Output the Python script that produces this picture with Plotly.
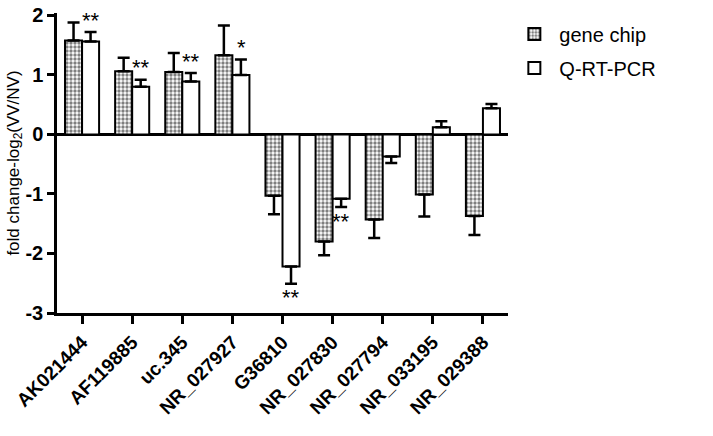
import plotly.graph_objects as go

categories = ["AK021444", "AF119885", "uc.345", "NR_027927", "G36810",
              "NR_027830", "NR_027794", "NR_033195", "NR_029388"]
gene_chip = [1.58, 1.06, 1.05, 1.33, -1.03, -1.80, -1.43, -1.01, -1.37]
gene_chip_err = [0.30, 0.23, 0.32, 0.50, 0.31, 0.23, 0.31, 0.37, 0.32]
qrt_pcr = [1.56, 0.80, 0.89, 1.00, -2.22, -1.08, -0.37, 0.12, 0.44]
qrt_pcr_err = [0.16, 0.12, 0.14, 0.26, 0.29, 0.14, 0.11, 0.10, 0.07]
qrt_sig = ["**", "**", "**", "*", "**", "**", "", "", ""]
y_ticks = [-3, -2, -1, 0, 1, 2]
y_tick_text = ["-3", "-2", "-1", "0", "1", "2"]

def one_sided(vals, errs):
    up = [e if v >= 0 else 0 for v, e in zip(vals, errs)]
    dn = [e if v < 0 else 0 for v, e in zip(vals, errs)]
    return up, dn

gc_up, gc_dn = one_sided(gene_chip, gene_chip_err)
q_up, q_dn = one_sided(qrt_pcr, qrt_pcr_err)

fig = go.Figure()
fig.add_trace(go.Bar(
    x=categories, y=gene_chip, name="gene chip", legendgroup="a",
    marker=dict(color="white", line=dict(color="black", width=2),
                pattern=dict(shape=".", size=4, solidity=0.55,
                             fgcolor="#000000", bgcolor="white")),
    error_y=dict(type="data", symmetric=False, array=gc_up, arrayminus=gc_dn,
                 color="black", thickness=2.5, width=6),
))
fig.add_trace(go.Bar(
    x=categories, y=qrt_pcr, name="Q-RT-PCR", legendgroup="b",
    marker=dict(color="white", line=dict(color="black", width=2)),
    error_y=dict(type="data", symmetric=False, array=q_up, arrayminus=q_dn,
                 color="black", thickness=2.5, width=6),
))

for cat, v, e, s in zip(categories, qrt_pcr, qrt_pcr_err, qrt_sig):
    if not s:
        continue
    if v >= 0:
        fig.add_annotation(x=cat, y=v + e, text=s, showarrow=False,
                           xshift=9, yshift=12,
                           font=dict(size=22, color="black", family="Liberation Sans"))
    else:
        fig.add_annotation(x=cat, y=v - e, text=s, showarrow=False,
                           xshift=8, yshift=-14,
                           font=dict(size=22, color="black", family="Liberation Sans"))

fig.update_layout(
    width=713, height=436,
    margin=dict(l=57, r=205, t=13, b=123, autoexpand=False),
    plot_bgcolor="white", paper_bgcolor="white",
    barmode="group", bargap=0.32, bargroupgap=0,
    font=dict(family="Liberation Sans", color="black"),
    showlegend=True,
    legend=dict(x=1.003, y=0.995, xanchor="left", yanchor="top",
                font=dict(size=20, color="black"), bgcolor="rgba(0,0,0,0)",
                itemsizing="constant", itemwidth=40, tracegroupgap=5),
    xaxis=dict(showline=True, linecolor="black", linewidth=2.5,
               ticks="outside", ticklen=8, tickwidth=2.5, tickcolor="black",
               tickangle=-45, automargin=False, ticklabeloverflow="allow",
               tickfont=dict(size=19, family="Liberation Sans", color="black",
                             weight="bold"),
               showgrid=False),
    yaxis=dict(range=[-3, 2.04], tickvals=y_ticks, ticktext=y_tick_text,
               showline=True, automargin=False, ticklabeloverflow="allow",
               linecolor="black", linewidth=2.5,
               ticks="outside", ticklen=7, tickwidth=2.5, tickcolor="black",
               tickfont=dict(size=20, family="Liberation Sans", color="black",
                             weight="bold"),
               showgrid=False, zeroline=True, zerolinecolor="black",
               zerolinewidth=2.5,
               title=dict(text="fold change-log<sub>2</sub>(VV/NV)",
                          font=dict(size=17, family="Liberation Sans", color="black"),
                          standoff=0)),
)

fig.write_html("out.html", config={"displayModeBar": False},
               post_script="document.body.style.margin='0';")
